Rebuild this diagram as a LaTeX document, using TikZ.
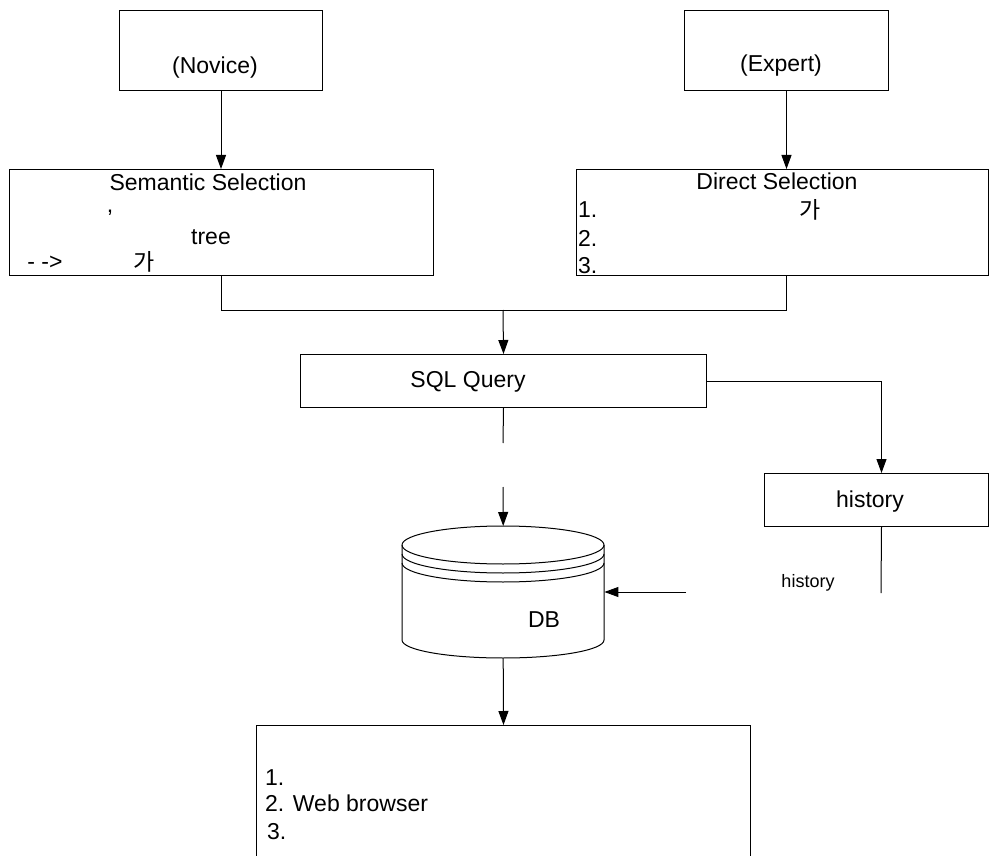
\documentclass[tikz,border=0pt]{standalone}
\usepackage{fontspec}
\setmainfont{Liberation Sans}
\newfontfamily\krfont{Noto Sans CJK KR}
\usetikzlibrary{arrows.meta}
\begin{document}
\begin{tikzpicture}[x=1pt,y=-1pt,
  box/.style={draw,line width=1pt,inner sep=0pt,anchor=north west},
  lbl/.style={inner sep=0pt,font=\fontsize{23}{27}\selectfont},
  smalllbl/.style={inner sep=0pt,font=\fontsize{18}{21}\selectfont},
  conn/.style={line width=1pt},
  arr/.style={line width=1pt,-{Triangle[length=14pt,width=10pt]}}]
\useasboundingbox (0,0) rectangle (989,856);
\clip (0,0) rectangle (989,856);

% boxes
\node[box,minimum width=203pt,minimum height=80pt] (nov) at (119,10) {};
\node[box,minimum width=204pt,minimum height=80pt] (exp) at (684,10) {};
\node[box,minimum width=424pt,minimum height=106pt] (sem) at (9,169) {};
\node[box,minimum width=412pt,minimum height=106pt] (dir) at (576,169) {};
\node[box,minimum width=406pt,minimum height=53pt] (sql) at (300,354) {};
\node[box,minimum width=224pt,minimum height=53pt] (hist) at (764,473) {};
\node[box,minimum width=494pt,minimum height=200pt] (out) at (256,725) {};
\node[inner sep=0pt,minimum width=202pt,minimum height=132pt,anchor=north west] (db) at (402,526) {};

% cylinder
\draw[line width=1pt]
  (402,545) .. controls (402,534.5) and (447.2,526) .. (503,526)
  .. controls (558.8,526) and (604,534.5) .. (604,545)
  .. controls (604,555.5) and (558.8,564) .. (503,564)
  .. controls (447.2,564) and (402,555.5) .. (402,545);
\draw[line width=1pt]
  (402,554) .. controls (402,564.5) and (447.2,573) .. (503,573)
  .. controls (558.8,573) and (604,564.5) .. (604,554);
\draw[line width=1pt]
  (402,563) .. controls (402,573.5) and (447.2,582) .. (503,582)
  .. controls (558.8,582) and (604,573.5) .. (604,563);
\draw[line width=1pt]
  (402,545) -- (402,640) .. controls (402,650) and (447.2,658) .. (503,658)
  .. controls (558.8,658) and (604,650) .. (604,640) -- (604,545);

% texts
\node[lbl] (tnov) at (215,68) {(Novice)};
\node[lbl] (texp) at (781,66) {(Expert)};
\node[lbl] (tsem) at (208,182) {Semantic Selection};
\node[lbl] (tcomma) at (110,213) {,};
\node[lbl] (ttree) at (211,237) {tree};
\node[lbl] (tarrow) at (45,263) {- ->};
\node[lbl] (tga1) at (144,262) {\krfont 가};
\node[lbl] (tdir) at (777,181) {Direct Selection};
\node[lbl,anchor=west] (td1) at (578,210) {1.};
\node[lbl] (tga2) at (810,210) {\krfont 가};
\node[lbl,anchor=west] (td2) at (578,238) {2.};
\node[lbl,anchor=west] (td3) at (578,266) {3.};
\node[lbl] (tsql) at (468,382) {SQL Query};
\node[lbl] (thist) at (870,502) {history};
\node[smalllbl] (thist2) at (808,583) {history};
\node[lbl] (tdb) at (544,620) {DB};
\node[lbl,anchor=west] (to1) at (265,778) {1.};
\node[lbl,anchor=west] (to2) at (265,803) {2. Web browser};
\node[lbl,anchor=west] (to3) at (267,832) {3.};

% connectors
\coordinate (mj) at (503,310);
\coordinate (g1) at (503,443);
\coordinate (g2) at (503,487);
\coordinate (hx) at ([xshift=5pt]hist.north);
\coordinate (hend) at (881,593);
\coordinate (hs) at (686,592);

\draw[arr] (nov.south) -- (nov.south |- sem.north);
\draw[arr] (exp.south) -- (exp.south |- dir.north);
\draw[conn] (nov.south |- sem.south) |- (exp.south |- mj) -- (exp.south |- dir.south);
\draw[arr] (mj) -- (sql.north);
\draw[conn] (sql.south) -- (g1);
\draw[arr] (g2) -- (db.north);
\draw[arr] (sql.east) -| (hx);
\draw[conn] (hist.south -| hx) -- (hend);
\draw[arr] (hs) -- (hs -| db.east);
\draw[arr] (db.south) -- (out.north);
\end{tikzpicture}
\end{document}
